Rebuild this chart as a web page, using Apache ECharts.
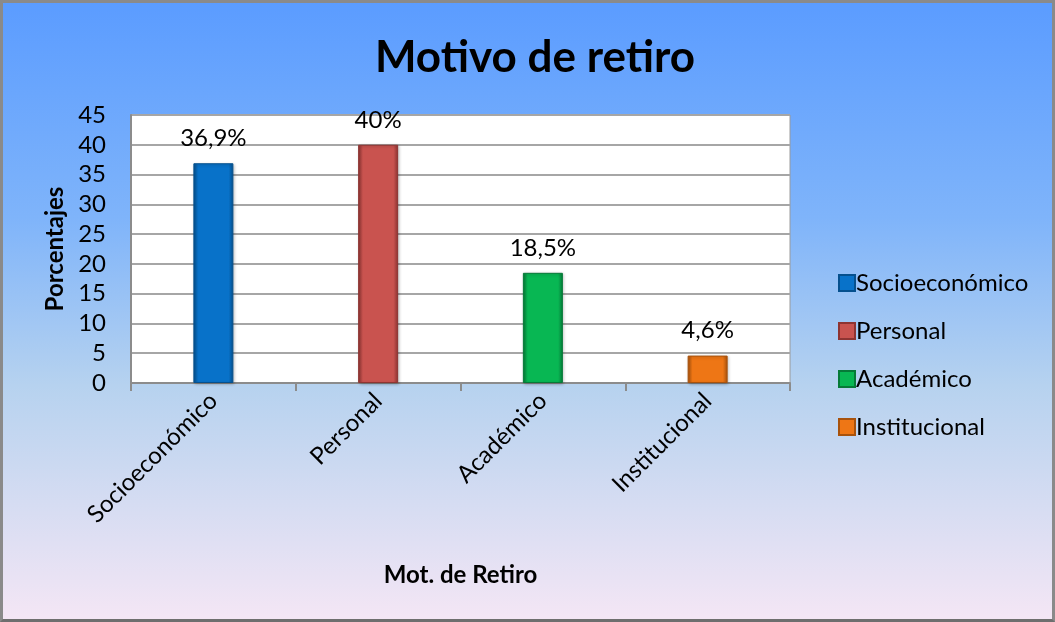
<!DOCTYPE html>
<html>
<head>
<meta charset="utf-8">
<script src="https://cdn.jsdelivr.net/npm/echarts@6/dist/echarts.min.js"></script>
<style>
html,body{margin:0;padding:0;width:1055px;height:622px;overflow:hidden;}
#wrap{position:absolute;left:0;top:0;width:1055px;height:622px;box-sizing:border-box;border:3px solid #8a8a8a;border-bottom-color:#6e6e6e;}
#chart{width:100%;height:100%;}
</style>
</head>
<body>
<div id="wrap"><div id="chart"></div></div>
<script>
const categories = ['Socioeconómico', 'Personal', 'Académico', 'Institucional'];
const values = [36.9, 40, 18.5, 4.6];
const valueLabels = ['36,9%', '40%', '18,5%', '4,6%'];
const colors = ['#0872C9', '#C9534F', '#08B753', '#EE7615'];
const borderColors = ['#05508E', '#8E3432', '#067A38', '#A8520C'];
const yTicks = [0, 5, 10, 15, 20, 25, 30, 35, 40, 45];

const FONT = 'Lato, "Open Sans", sans-serif';
const chart = echarts.init(document.getElementById('chart'));

const series = categories.map((name, i) => ({
  name: name,
  type: 'bar',
  stack: 'all',
  barWidth: 40,
  data: categories.map((c, j) => (j === i ? values[i] : null)),
  itemStyle: {
    color: {
      type: 'linear', x: 0, y: 0, x2: 1, y2: 0,
      colorStops: [
        { offset: 0, color: borderColors[i] },
        { offset: 0.12, color: colors[i] },
        { offset: 0.88, color: colors[i] },
        { offset: 1, color: borderColors[i] }
      ]
    },
    borderColor: borderColors[i],
    borderWidth: 1,
    shadowColor: 'rgba(0,0,0,0.25)',
    shadowBlur: 3,
    shadowOffsetX: 1,
    shadowOffsetY: 1
  },
  label: {
    show: true,
    position: 'top',
    distance: 13,
    color: '#000',
    fontFamily: FONT,
    fontSize: 24,
    formatter: () => valueLabels[i]
  }
}));

chart.setOption({
  backgroundColor: {
    type: 'linear', x: 0, y: 0, x2: 0, y2: 1,
    colorStops: [
      { offset: 0, color: '#5B9CFF' },
      { offset: 0.35, color: '#7FB4FA' },
      { offset: 0.62, color: '#B6D2EF' },
      { offset: 1, color: '#F4E6F5' }
    ]
  },
  animation: false,
  title: {
    text: 'Motivo de retiro',
    left: 527,
    top: 28,
    textAlign: 'center',
    textStyle: { fontFamily: FONT, fontSize: 44, fontWeight: 'bold', color: '#000' }
  },
  legend: {
    orient: 'vertical',
    left: 830,
    top: 263,
    icon: 'rect',
    itemWidth: 16,
    itemHeight: 16,
    itemGap: 24,
    data: categories,
    textStyle: { fontFamily: FONT, fontSize: 24, color: '#000', padding: [0, 0, 0, -4] }
  },
  grid: {
    left: 128, top: 112, right: 262, bottom: 236,
    show: true, backgroundColor: '#ffffff', borderColor: '#9a9a9a', borderWidth: 1
  },
  xAxis: {
    type: 'category',
    data: categories,
    name: 'Mot. de Retiro',
    nameLocation: 'middle',
    nameGap: 180,
    nameTextStyle: { fontFamily: FONT, fontSize: 24, fontWeight: 'bold', color: '#000' },
    axisLine: { lineStyle: { color: '#8c8c8c', width: 2 } },
    axisTick: { show: true, length: 8, lineStyle: { color: '#8c8c8c', width: 2 } },
    axisLabel: { rotate: 45, margin: 14, fontFamily: FONT, fontSize: 24, color: '#000' }
  },
  yAxis: {
    type: 'value',
    min: 0, max: 45, interval: 5,
    name: 'Porcentajes',
    nameLocation: 'middle',
    nameGap: 63,
    nameTextStyle: { fontFamily: FONT, fontSize: 24, fontWeight: 'bold', color: '#000' },
    axisLine: { show: true, lineStyle: { color: '#8c8c8c', width: 2 } },
    axisTick: { show: false },
    axisLabel: {
      fontFamily: FONT, fontSize: 24, color: '#000', margin: 25,
      formatter: v => (yTicks.indexOf(v) >= 0 ? String(v) : '')
    },
    splitLine: { lineStyle: { color: '#a6a6a6', width: 2 } }
  },
  series: series
});
</script>
</body>
</html>
